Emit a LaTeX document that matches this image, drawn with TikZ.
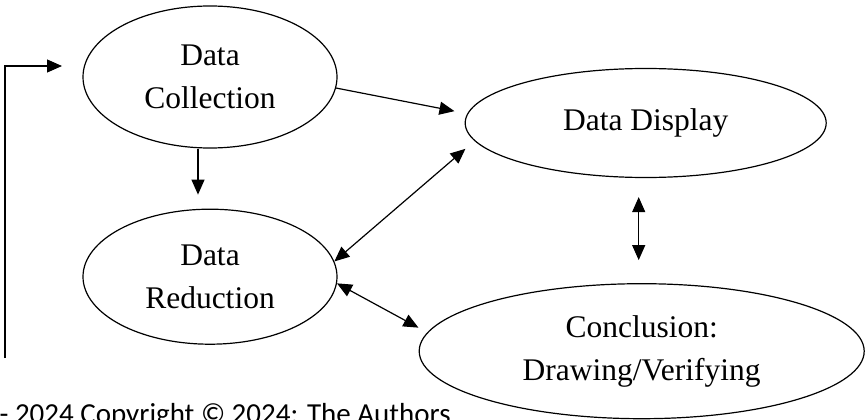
\documentclass[tikz,border=0pt]{standalone}
\usepackage{fontspec}
\setmainfont{Liberation Serif}
\newfontfamily\calibri{Carlito}
\usetikzlibrary{shapes,positioning,arrows.meta}

\begin{document}
\begin{tikzpicture}[x=1pt, y=-1pt, line width=1.2pt,
    stage/.style={draw, ellipse, inner sep=0pt, align=center, font=\fontsize{31.5}{43}\selectfont},
    flow/.style={-{Triangle[length=15pt,width=13pt]}},
    twoway/.style={{Triangle[length=15pt,width=13pt]}-{Triangle[length=15pt,width=13pt]}}]
    \useasboundingbox (0,0) rectangle (865,420);
    \clip (0,0) rectangle (865,420);

    \node[stage, minimum width=254pt, minimum height=142pt] (collection) at (210,77) {Data\\Collection};
    \node[stage, minimum width=254pt, minimum height=135pt, below=60pt of collection] (reduction) {Data\\Reduction};
    \node[stage, minimum width=361pt, minimum height=109pt, right=127pt of collection, yshift=-46pt] (display) {Data Display};
    \node[stage, minimum width=445pt, minimum height=135pt, below=105pt of display, xshift=-4pt] (conclusion) {Conclusion:\\Drawing/Verifying};
    \node[anchor=base west, inner sep=0pt, font=\calibri\fontsize{29}{35}\selectfont] (copyright) at (-1,423) {- 2024 Copyright © 2024: The Authors};

    \coordinate (loopstart) at (5,358);
    \coordinate (loopend) at (62,66);

    \draw[flow, shorten >=14pt] ([xshift=-12pt]collection.south) -- ([xshift=-12pt]reduction.north);
    \draw[flow, shorten >=13pt] (collection.-5) -- (display.177);
    \draw[twoway, shorten <=12pt] (display.186) -- (reduction.7);
    \draw[twoway, shorten >=10pt] (reduction.-3) -- (conclusion.175);
    \draw[twoway, shorten <=19pt, shorten >=23pt] ([xshift=-7pt]display.south) -- ([xshift=-7pt]display.south |- conclusion.north);
    \draw[flow] (loopstart) |- (loopend);
\end{tikzpicture}
\end{document}
